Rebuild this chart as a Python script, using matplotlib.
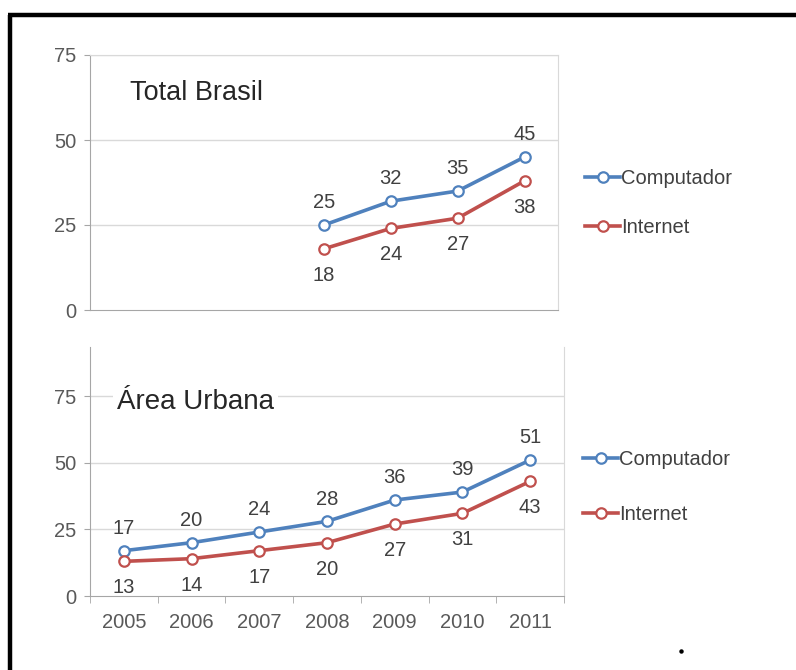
import numpy as np
import matplotlib
matplotlib.use('Agg')
import matplotlib.pyplot as plt
from matplotlib.lines import Line2D

plt.rcParams['font.family'] = ['Liberation Sans', 'DejaVu Sans']

# dados
anos = ['2005', '2006', '2007', '2008', '2009', '2010', '2011']
brasil_computador = [np.nan, np.nan, np.nan, 25, 32, 35, 45]
brasil_internet = [np.nan, np.nan, np.nan, 18, 24, 27, 38]
urbana_computador = [17, 20, 24, 28, 36, 39, 51]
urbana_internet = [13, 14, 17, 20, 27, 31, 43]
series_nomes = ['Computador', 'Internet']
cores = ['#4F81BD', '#C0504D']

TXT = '#404040'
GRID = '#D9D9D9'
SPINE = '#A6A6A6'

fig = plt.figure(figsize=(7.96, 6.70), dpi=100)

# moldura (so topo e esquerda aparecem no recorte)
fig.add_artist(Line2D([10 / 796, 10 / 796], [0, 1 - 15 / 670], color='black', lw=3.2,
                      solid_capstyle='butt', transform=fig.transFigure))
fig.add_artist(Line2D([8 / 796, 1], [1 - 15 / 670, 1 - 15 / 670], color='black', lw=3.2,
                      solid_capstyle='butt', transform=fig.transFigure))

ax1 = fig.add_axes([90 / 796, 1 - 310 / 670, 468 / 796, 255 / 670])
ax2 = fig.add_axes([90 / 796, 1 - 596 / 670, 474 / 796, 249 / 670])

x = np.arange(len(anos))


def desenha(ax, comp, inet, ytop, titulo, ty, tx, tsize):
    ax.set_xlim(-0.5, len(anos) - 0.5)
    ax.set_ylim(0, ytop)
    ax.set_yticks([0, 25, 50, 75])
    for v in [25, 50, 75]:
        ax.axhline(v, color=GRID, lw=1, zorder=0)
    ax.tick_params(axis='y', length=4, color=SPINE, labelsize=14.5, labelcolor='#595959', pad=6)
    for s in ax.spines.values():
        s.set_color(GRID)
    ax.spines['left'].set_color(SPINE)
    ax.spines['bottom'].set_color(SPINE)

    hs = []
    for vals, cor, nome, off in [(comp, cores[0], series_nomes[0], 16),
                                 (inet, cores[1], series_nomes[1], -19)]:
        h, = ax.plot(x, vals, color=cor, lw=2.6, marker='o', ms=7.5,
                     mfc='white', mec=cor, mew=1.6, label=nome, zorder=3)
        hs.append(h)
        for xi, v in zip(x, vals):
            if np.isnan(v):
                continue
            ax.annotate(f'{v:.0f}', (xi, v), xytext=(0, off), textcoords='offset points',
                        ha='center', va='center', fontsize=14.5, color=TXT)
    ax.text(tx, ty, titulo, fontsize=tsize, color='#262626', va='center', ha='left',
            bbox=dict(facecolor='white', edgecolor='none', pad=3), zorder=2)
    return hs


hs1 = desenha(ax1, brasil_computador, brasil_internet, 75, 'Total Brasil', 63.8, 0.1, 19.5)
ax1.set_xticks([])

hs2 = desenha(ax2, urbana_computador, urbana_internet, 93.4, 'Área Urbana', 72.8, -0.1, 20)
ax2.spines['top'].set_visible(False)
ax2.set_xticks(x)
ax2.set_xticklabels(anos)
ax2.set_xticks(np.arange(-0.5, len(anos)), minor=True)
ax2.tick_params(axis='x', which='major', length=0, labelsize=14.5, labelcolor='#595959', pad=12)
ax2.tick_params(axis='x', which='minor', length=5, color=SPINE)

for hs, yc, xl, sp in [(hs1, 1 - 203 / 670, 585 / 796, 1.5), (hs2, 1 - 487 / 670, 583 / 796, 1.75)]:
    fig.legend(handles=hs, labels=series_nomes, loc='center left', bbox_to_anchor=(xl, yc),
               bbox_transform=fig.transFigure, frameon=False, fontsize=14.5,
               handlelength=1.75, handletextpad=0.05, labelspacing=sp, borderpad=0,
               borderaxespad=0, labelcolor=TXT)

fig.add_artist(Line2D([681 / 796], [1 - 651 / 670], marker='o', ms=2.2, color='black',
                      transform=fig.transFigure))

fig.savefig('out.png', dpi=100, facecolor='white')
